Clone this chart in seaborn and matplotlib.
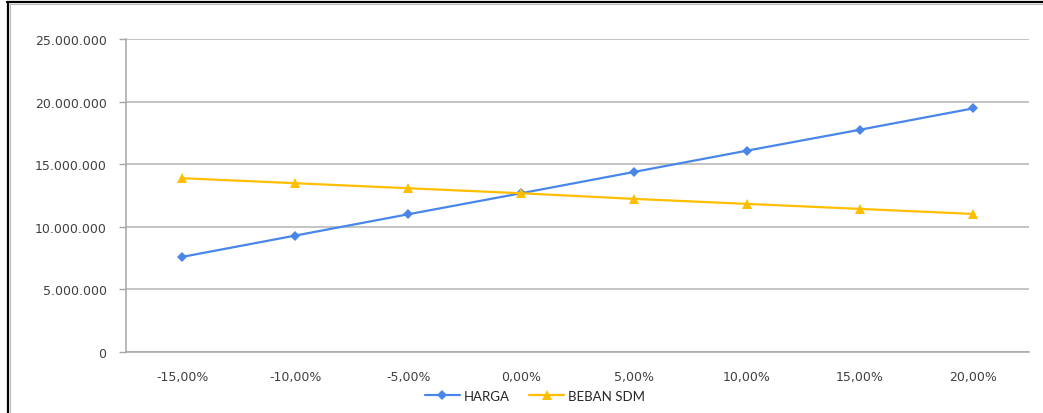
import matplotlib
matplotlib.use("Agg")
import matplotlib.pyplot as plt
from matplotlib.lines import Line2D
from matplotlib.ticker import FixedLocator, FuncFormatter
import seaborn as sns
import pandas as pd

# Sensitivity scenarios (change in input) and resulting values
categories = ["-15,00%", "-10,00%", "-5,00%", "0,00%", "5,00%", "10,00%", "15,00%", "20,00%"]
harga = [7_600_000, 9_300_000, 11_000_000, 12_680_000, 14_380_000, 16_080_000, 17_750_000, 19_450_000]
beban_sdm = [13_880_000, 13_480_000, 13_080_000, 12_680_000, 12_230_000, 11_830_000, 11_430_000, 11_030_000]
series_names = ["HARGA", "BEBAN SDM"]

df = pd.DataFrame({
    "pos": list(range(len(categories))) * 2,
    "value": harga + beban_sdm,
    "series": [series_names[0]] * len(categories) + [series_names[1]] * len(categories),
})

sns.set_theme(style="white")
plt.rcParams["font.family"] = ["DejaVu Sans"]

fig = plt.figure(figsize=(10.43, 4.14), dpi=100)
ax = fig.add_axes([126 / 1043, 1 - 353 / 414, (1029 - 126) / 1043, (353 - 40) / 414])

palette = {"HARGA": "#4A86E8", "BEBAN SDM": "#FFBF00"}
markers = {"HARGA": "D", "BEBAN SDM": "^"}
sns.lineplot(data=df, x="pos", y="value", hue="series", style="series",
             palette=palette, markers=markers, dashes=False, linewidth=1.6,
             markersize=6, markeredgewidth=0, ax=ax, legend=False)
for line in ax.lines:
    if line.get_marker() == "D":
        line.set_markersize(5.5)
    else:
        line.set_markersize(7.5)

ax.set_xlim(-0.5, len(categories) - 0.5)
ax.set_ylim(0, 25_000_000)
ax.set_xlabel("")
ax.set_ylabel("")

grid_c = "#B4B4B4"
axis_c = "#A6A6A6"
text_c = "#404040"

ax.yaxis.set_major_locator(FixedLocator([0, 5e6, 10e6, 15e6, 20e6, 25e6]))
ax.yaxis.set_major_formatter(FuncFormatter(lambda v, p: f"{v:,.0f}".replace(",", ".")))
ax.grid(axis="y", color=grid_c, linewidth=1.1)
ax.grid(axis="x", visible=False)

ax.set_xticks(range(len(categories)))
ax.set_xticklabels(categories)
ax.set_xticks([i - 0.5 for i in range(len(categories) + 1)], minor=True)
ax.tick_params(axis="x", which="major", length=0, pad=13, labelsize=9, labelcolor=text_c)
ax.tick_params(axis="x", which="minor", length=5, width=1, color=axis_c, direction="out")
ax.tick_params(axis="y", which="major", length=5, width=1, color=axis_c, direction="out",
               pad=9, labelsize=9, labelcolor=text_c, left=True)

for s in ["top", "right"]:
    ax.spines[s].set_visible(False)
for s in ["left", "bottom"]:
    ax.spines[s].set_color(axis_c)
    ax.spines[s].set_linewidth(1.1)

handles = [
    Line2D([], [], color=palette["HARGA"], marker="D", markersize=5.5, markeredgewidth=0, linewidth=1.6),
    Line2D([], [], color=palette["BEBAN SDM"], marker="^", markersize=7.5, markeredgewidth=0, linewidth=1.6),
]
fig.legend(handles, series_names, loc="center", bbox_to_anchor=(535 / 1043, 1 - 397 / 414),
           ncol=2, frameon=False, handlelength=2.6, handletextpad=0.3, columnspacing=1.5,
           prop={"family": "Lato", "size": 9.5}, labelcolor="#262626")

# Frame edges of the chart object
fig.add_artist(Line2D([7.5 / 1043, 7.5 / 1043], [0, 1 - 3 / 414], transform=fig.transFigure,
                      color="black", linewidth=1.6))
fig.add_artist(Line2D([9.5 / 1043, 9.5 / 1043], [0, 1 - 5 / 414], transform=fig.transFigure,
                      color="#BBBBBB", linewidth=0.8))
fig.add_artist(Line2D([6.5 / 1043, 1], [1 - 3 / 414, 1 - 3 / 414], transform=fig.transFigure,
                      color="black", linewidth=1.6))
fig.add_artist(Line2D([9.5 / 1043, 1], [1 - 5 / 414, 1 - 5 / 414], transform=fig.transFigure,
                      color="#BBBBBB", linewidth=0.8))

fig.savefig("out.png", dpi=100)
